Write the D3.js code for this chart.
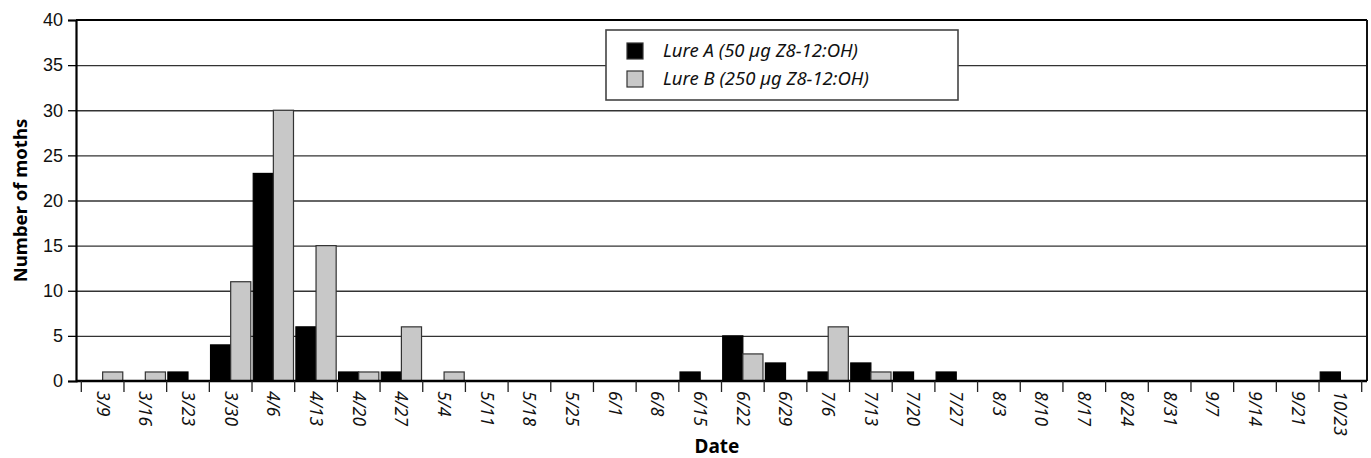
<!DOCTYPE html>
<html>
<head>
<meta charset="utf-8">
<script src="https://cdn.jsdelivr.net/npm/d3@7"></script>
<style>
  body { margin: 0; background: #fff; }
  svg { display: block; font-family: "Noto Sans", "Open Sans", sans-serif; }
  .grid line { stroke: #333; stroke-width: 1.3; }
  .grid path { display: none; }
</style>
</head>
<body>
<svg id="chart" width="1371" height="458"></svg>
<script>
const dates = ['3/9', '3/16', '3/23', '3/30', '4/6', '4/13', '4/20', '4/27', '5/4', '5/11',
    '5/18', '5/25', '6/1', '6/8', '6/15', '6/22', '6/29', '7/6', '7/13', '7/20',
    '7/27', '8/3', '8/10', '8/17', '8/24', '8/31', '9/7', '9/14', '9/21', '10/23'];
const lureA = [0, 0, 1, 4, 23, 6, 1, 1, 0, 0, 0, 0, 0, 0, 1, 5, 2, 1, 2, 1, 1, 0, 0, 0, 0, 0, 0, 0, 0, 1];
const lureB = [1, 1, 0, 11, 30, 15, 1, 6, 1, 0, 0, 0, 0, 0, 0, 3, 0, 6, 1, 0, 0, 0, 0, 0, 0, 0, 0, 0, 0, 0];
const seriesNames = ['Lure A (50 µg Z8-12:OH)', 'Lure B (250 µg Z8-12:OH)'];
const seriesColors = ['#000000', '#c8c8c8'];
const yTicks = [0, 5, 10, 15, 20, 25, 30, 35, 40];

const svg = d3.select('#chart');

// plot frame
const plotLeft = 76, plotRight = 1367, plotTop = 20, plotBottom = 381;

const xScale = d3.scaleBand()
    .range([81.3, 1361.7])
    .domain(dates);

const yScale = d3.scaleLinear()
    .range([plotBottom, plotTop])
    .domain([0, 40]);

const inner = d3.scaleBand()
    .domain([0, 1])
    .range([0, xScale.bandwidth()])
    .paddingOuter(0.06)
    .paddingInner(0);

// horizontal grid lines
svg.append('g')
    .attr('class', 'grid')
    .attr('transform', `translate(${plotLeft}, 0)`)
    .call(d3.axisLeft(yScale)
        .tickValues(yTicks.filter(d => d > 0 && d < 40))
        .tickSize(-(plotRight - plotLeft))
        .tickFormat(''));

// bars
const rows = dates.map((d, i) => ({ date: d, values: [lureA[i], lureB[i]] }));

const groups = svg.selectAll('.day')
    .data(rows)
    .enter()
    .append('g')
    .attr('class', 'day')
    .attr('transform', d => `translate(${xScale(d.date)}, 0)`);

groups.selectAll('rect')
    .data(d => d.values.map((v, k) => ({ v, k })).filter(e => e.v > 0))
    .enter()
    .append('rect')
    .attr('x', e => inner(e.k))
    .attr('y', e => yScale(e.v))
    .attr('width', inner.bandwidth())
    .attr('height', e => plotBottom - yScale(e.v))
    .attr('fill', e => seriesColors[e.k])
    .attr('stroke', e => e.k === 0 ? '#000' : '#333')
    .attr('stroke-width', 1.2);

// frame: top and right
svg.append('line')
    .attr('x1', plotLeft).attr('x2', plotRight)
    .attr('y1', plotTop).attr('y2', plotTop)
    .attr('stroke', '#000').attr('stroke-width', 2);
svg.append('line')
    .attr('x1', plotRight).attr('x2', plotRight)
    .attr('y1', plotTop).attr('y2', plotBottom)
    .attr('stroke', '#111').attr('stroke-width', 2);

// y axis
const yAxis = svg.append('g')
    .attr('transform', `translate(${plotLeft}, 0)`)
    .call(d3.axisLeft(yScale).tickValues(yTicks).tickSize(8).tickPadding(5));
yAxis.select('.domain').attr('stroke', '#000').attr('stroke-width', 2.2);
yAxis.selectAll('.tick line').attr('stroke', '#000').attr('stroke-width', 1.3);
yAxis.selectAll('.tick text')
    .attr('font-size', 18)
    .attr('fill', '#111');

// x axis: ticks at category boundaries
const boundaries = dates.map(d => xScale(d)).concat([xScale(dates[dates.length - 1]) + xScale.bandwidth()]);
svg.append('line')
    .attr('x1', plotLeft).attr('x2', plotRight)
    .attr('y1', plotBottom).attr('y2', plotBottom)
    .attr('stroke', '#000').attr('stroke-width', 2.4);
svg.selectAll('.xtick')
    .data(boundaries)
    .enter()
    .append('line')
    .attr('class', 'xtick')
    .attr('x1', d => d).attr('x2', d => d)
    .attr('y1', plotBottom).attr('y2', plotBottom + 11)
    .attr('stroke', '#222').attr('stroke-width', 1.3);

svg.selectAll('.xlabel')
    .data(dates)
    .enter()
    .append('text')
    .attr('class', 'xlabel')
    .attr('transform', d => `translate(${xScale(d) + xScale.bandwidth() / 2}, ${plotBottom + 10}) rotate(90)`)
    .attr('dy', '0.35em')
    .attr('text-anchor', 'start')
    .attr('font-size', 17.5)
    .attr('font-style', 'italic')
    .attr('fill', '#111')
    .text(d => d);

// axis titles
svg.append('text')
    .attr('transform', `translate(27, ${(plotTop + plotBottom) / 2}) rotate(-90)`)
    .attr('text-anchor', 'middle')
    .attr('font-size', 18.5)
    .attr('font-weight', 'bold')
    .text('Number of moths');

svg.append('text')
    .attr('x', 717)
    .attr('y', 453)
    .attr('text-anchor', 'middle')
    .attr('font-size', 19)
    .attr('font-weight', 'bold')
    .text('Date');

// legend
const legend = svg.append('g');
legend.append('rect')
    .attr('x', 606).attr('y', 30)
    .attr('width', 352).attr('height', 70)
    .attr('fill', '#fff')
    .attr('stroke', '#444').attr('stroke-width', 1.6);

const items = legend.selectAll('.item')
    .data(seriesNames)
    .enter()
    .append('g')
    .attr('transform', (d, i) => `translate(627, ${43 + i * 28})`);
items.append('rect')
    .attr('width', 16).attr('height', 16)
    .attr('fill', (d, i) => seriesColors[i])
    .attr('stroke', '#333').attr('stroke-width', 1.2);
items.append('text')
    .attr('x', 36).attr('y', 8)
    .attr('dy', '0.35em')
    .attr('font-size', 18.5)
    .attr('font-style', 'italic')
    .attr('fill', '#111')
    .text(d => d);
</script>
</body>
</html>
